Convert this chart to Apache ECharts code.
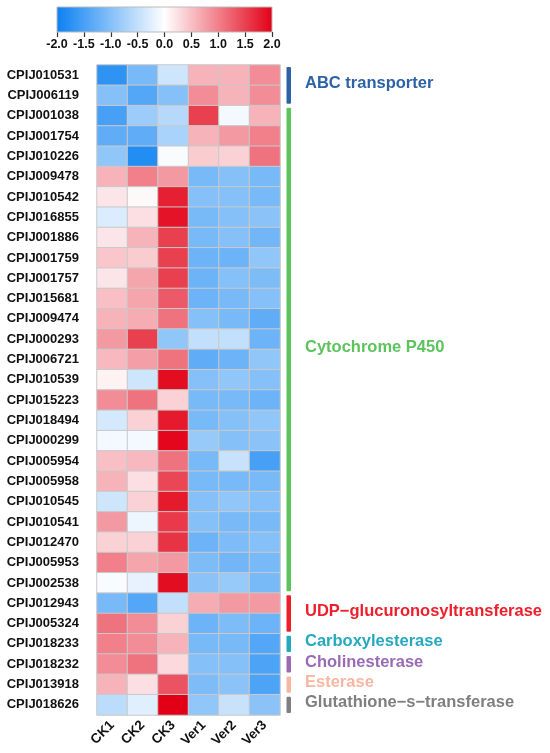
<!DOCTYPE html>
<html>
<head>
<meta charset="utf-8">
<script src="https://cdn.jsdelivr.net/npm/echarts@6/dist/echarts.min.js"></script>
<style>html,body{margin:0;padding:0;background:#fff}#c{width:550px;height:753px}</style>
</head>
<body>
<div id="c"></div>
<script>
var genes = ['CPIJ010531','CPIJ006119','CPIJ001038','CPIJ001754','CPIJ010226','CPIJ009478','CPIJ010542','CPIJ016855','CPIJ001886','CPIJ001759','CPIJ001757','CPIJ015681','CPIJ009474','CPIJ000293','CPIJ006721','CPIJ010539','CPIJ015223','CPIJ018494','CPIJ000299','CPIJ005954','CPIJ005958','CPIJ010545','CPIJ010541','CPIJ012470','CPIJ005953','CPIJ002538','CPIJ012943','CPIJ005324','CPIJ018233','CPIJ018232','CPIJ013918','CPIJ018626'];
var samples = ['CK1','CK2','CK3','Ver1','Ver2','Ver3'];
var values = [
 [-1.7,-1.1,-0.4, 0.6, 0.6, 0.9],
 [-1.0,-1.4,-1.0, 0.9, 0.6, 0.9],
 [-1.5,-0.8,-0.6, 1.5,-0.1, 0.6],
 [-1.3,-1.3,-0.7, 0.6, 0.8, 1.0],
 [-0.9,-1.8,-0.05,0.4, 0.35,1.1],
 [ 0.6, 1.0, 0.8,-1.1,-1.0,-1.1],
 [ 0.2, 0.05,1.75,-1.0,-1.0,-1.1],
 [-0.3, 0.25,1.85,-1.1,-1.0,-0.95],
 [ 0.2, 0.6, 1.5,-1.1,-1.0,-1.15],
 [ 0.45,0.4, 1.5,-1.2,-1.2,-0.9],
 [ 0.2, 0.7, 1.5,-1.2,-1.0,-1.05],
 [ 0.5, 0.7, 1.3,-1.2,-1.1,-1.0],
 [ 0.6, 0.65,1.1,-1.0,-1.1,-1.3],
 [ 0.8, 1.5,-0.9,-0.5,-0.5,-1.2],
 [ 0.55,0.75,1.1,-1.3,-1.2,-0.9],
 [ 0.1,-0.4, 1.9,-1.0,-0.9,-1.0],
 [ 0.9, 1.1, 0.35,-1.1,-1.1,-1.2],
 [-0.35,0.35,1.8,-1.1,-1.0,-0.9],
 [-0.1,-0.1, 1.95,-0.85,-1.0,-0.95],
 [ 0.5, 0.55,1.1,-1.1,-0.45,-1.5],
 [ 0.6, 0.25,1.45,-1.1,-1.1,-1.1],
 [-0.4, 0.35,1.8,-1.0,-0.9,-1.0],
 [ 0.8,-0.15,1.55,-1.0,-1.1,-1.1],
 [ 0.35,0.35,1.6,-1.2,-1.05,-1.0],
 [ 1.0, 0.7, 0.8,-1.05,-1.15,-1.1],
 [-0.05,-0.2,1.9,-0.95,-0.85,-1.1],
 [-1.1,-1.4,-0.5, 0.65,0.8, 0.8],
 [ 1.1, 0.9, 0.35,-1.2,-1.05,-1.2],
 [ 1.0, 0.9, 0.6,-1.1,-1.1,-1.4],
 [ 0.9, 1.1, 0.3,-1.0,-1.0,-1.45],
 [ 0.6, 0.25,1.35,-1.05,-0.95,-1.45],
 [-0.55,-0.25,2.0,-0.9,-0.45,-0.95]
];
var groupNames = ['ABC transporter','Cytochrome P450','UDP\u2212glucuronosyltransferase','Carboxylesterase','Cholinesterase','Esterase','Glutathione\u2212s\u2212transferase'];
var groupStart = [0, 2, 26, 28, 29, 30, 31];
var groupEnd   = [1, 25, 27, 28, 29, 30, 31];
var groupColors = ['#2d63a6','#5dc35d','#ee1f2b','#24a9bf','#9a6bb4','#f8b7a2','#7f7f7f'];
var scaleTicks = [-2.0,-1.5,-1.0,-0.5,0.0,0.5,1.0,1.5,2.0];
var scaleColors = ['#0a80f2','#ffffff','#e20016'];

var FONT = '"Liberation Sans", Arial, sans-serif';
var heat = [];
for (var r = 0; r < genes.length; r++) for (var c = 0; c < samples.length; c++) heat.push([c, r, values[r][c]]);
var groups = groupNames.map(function (n, i) { return [i, groupStart[i], groupEnd[i]]; });

var chart = echarts.init(document.getElementById('c'), null, {renderer: 'canvas'});
chart.setOption({
  animation: false,
  backgroundColor: '#ffffff',
  grid: [
    {left: 97, top: 65, width: 183, height: 650},
    {left: 57, top: 7, width: 215, height: 25}
  ],
  xAxis: [
    {type: 'category', gridIndex: 0, data: samples, position: 'bottom',
     axisLine: {show: false}, axisTick: {show: false}, splitLine: {show: false},
     axisLabel: {rotate: 45, margin: 8, fontFamily: FONT, fontWeight: 'bold', fontSize: 13.5, color: '#111'}},
    {type: 'value', gridIndex: 1, min: -2, max: 2, interval: 0.5, position: 'bottom',
     axisLine: {show: false}, splitLine: {show: false},
     axisTick: {show: true, length: 5, lineStyle: {color: '#333', width: 1.2}},
     axisLabel: {margin: 6, fontFamily: FONT, fontWeight: 'bold', fontSize: 12.5, color: '#111',
       formatter: function (v) { return v.toFixed(1); }}}
  ],
  yAxis: [
    {type: 'category', gridIndex: 0, data: genes, inverse: true,
     axisLine: {show: false}, axisTick: {show: false}, splitLine: {show: false},
     axisLabel: {margin: 18, fontFamily: FONT, fontWeight: 'bold', fontSize: 13, color: '#111'}},
    {type: 'value', gridIndex: 1, min: 0, max: 1, show: false}
  ],
  visualMap: {show: false, type: 'continuous', min: -2, max: 2, seriesIndex: 0, dimension: 2,
    inRange: {color: scaleColors}},
  series: [
    {type: 'heatmap', xAxisIndex: 0, yAxisIndex: 0, data: heat,
     itemStyle: {borderColor: '#c9c9c9', borderWidth: 1}},
    {type: 'custom', xAxisIndex: 0, yAxisIndex: 0, clip: false, data: groups,
     renderItem: function (params, api) {
       var i = api.value(0), s = api.value(1), e = api.value(2);
       var bh = api.size([0, 1])[1];
       var bw = api.size([1, 0])[0];
       var p1 = api.coord([samples.length - 1, s]);
       var p2 = api.coord([samples.length - 1, e]);
       var x = p1[0] + bw / 2 + 6.5;
       var y1 = p1[1] - bh / 2 + 2, y2 = p2[1] + bh / 2 - 2;
       return {type: 'group', children: [
         {type: 'rect', shape: {x: x, y: y1, width: 4.5, height: y2 - y1, r: 1}, style: {fill: groupColors[i]}},
         {type: 'text', x: x + 18.5, y: (y1 + y2) / 2 - 2,
          style: {text: groupNames[i], fill: groupColors[i], font: 'bold 16.5px ' + FONT, textVerticalAlign: 'middle', verticalAlign: 'middle', textAlign: 'left', align: 'left'}}
       ]};
     }},
    {type: 'custom', xAxisIndex: 1, yAxisIndex: 1, clip: false, data: [[scaleTicks[0], scaleTicks[scaleTicks.length - 1]]],
     renderItem: function (params, api) {
       var a = api.coord([api.value(0), 1]);
       var b = api.coord([api.value(1), 0]);
       return {type: 'rect', shape: {x: a[0], y: a[1], width: b[0] - a[0], height: b[1] - a[1]},
         style: {fill: new echarts.graphic.LinearGradient(0, 0, 1, 0, [
           {offset: 0, color: scaleColors[0]}, {offset: 0.5, color: scaleColors[1]}, {offset: 1, color: scaleColors[2]}]),
           stroke: '#bbbbbb', lineWidth: 1}};
     }}
  ]
});
</script>
</body>
</html>
